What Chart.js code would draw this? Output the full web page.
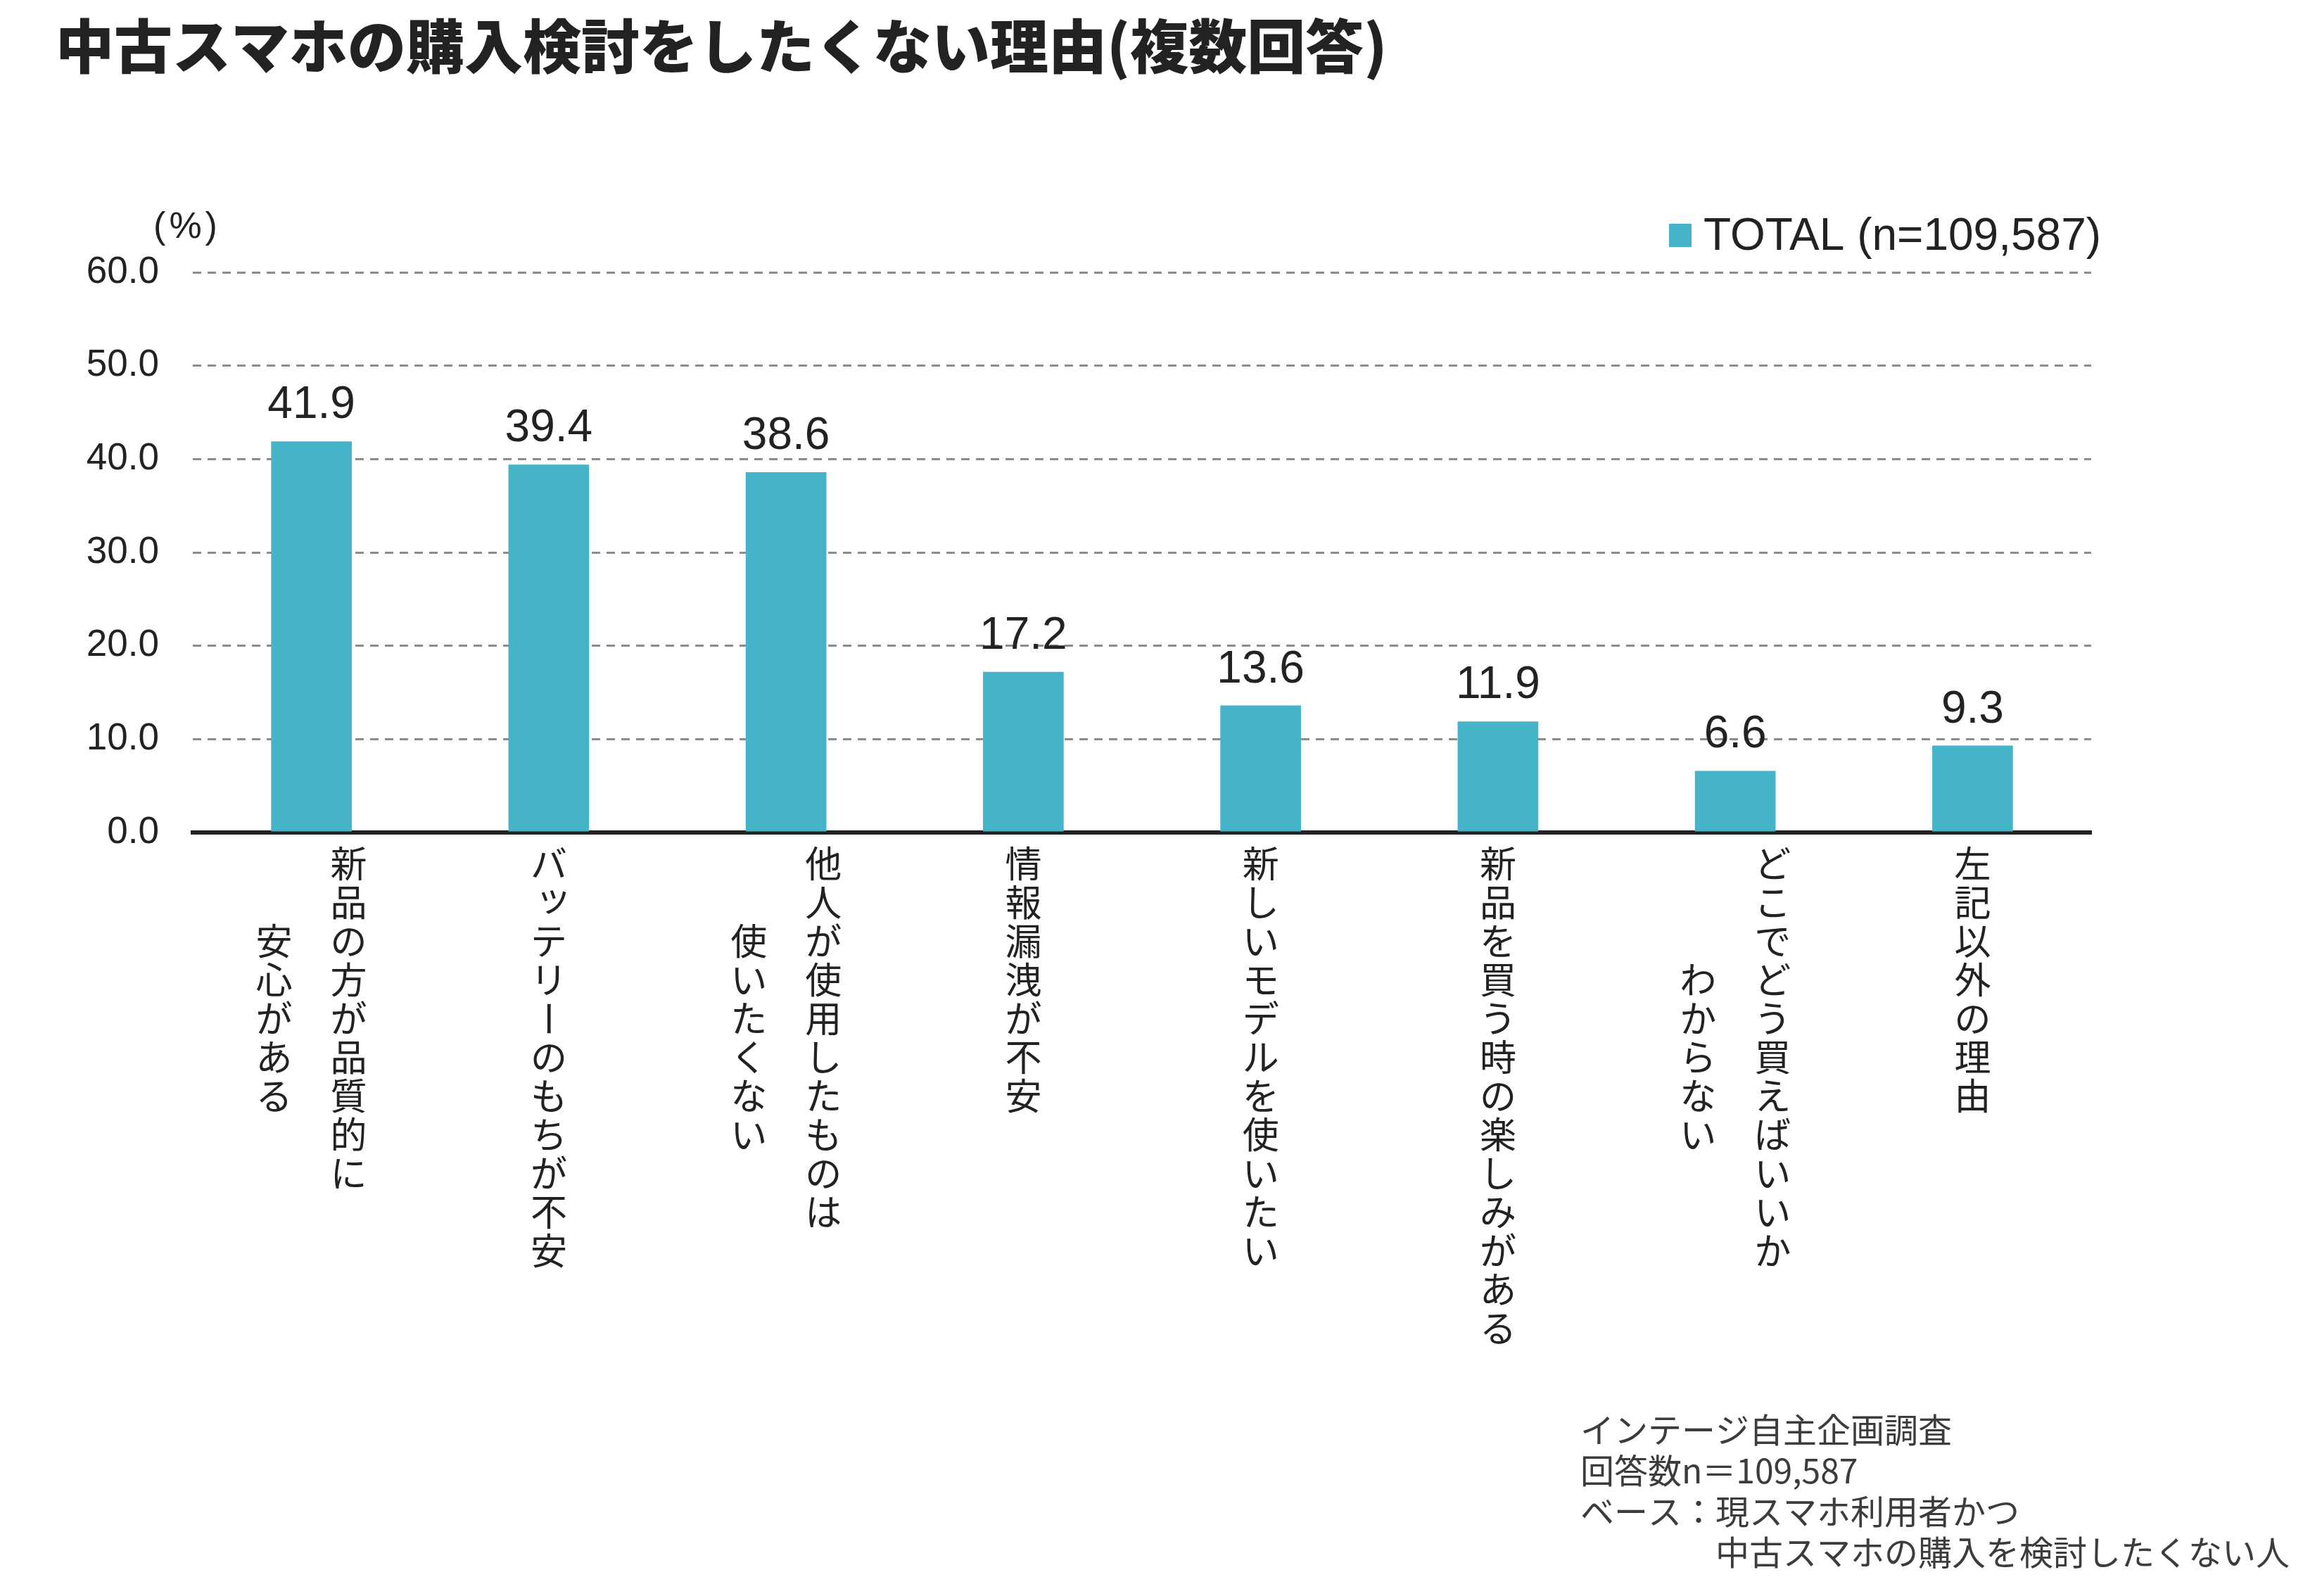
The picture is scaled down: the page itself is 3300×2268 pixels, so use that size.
<!DOCTYPE html>
<html lang="ja">
<head>
<meta charset="utf-8">
<title>中古スマホの購入検討をしたくない理由(複数回答)</title>
<script src="https://cdn.jsdelivr.net/npm/chart.js@4.4.1/dist/chart.umd.min.js"></script>
<style>
  html, body { margin: 0; padding: 0; background: #fff; }
  #wrap { width: 3300px; height: 2268px; }
</style>
</head>
<body>
<div id="wrap"><canvas id="chart" width="3300" height="2268"></canvas></div>
<script>
// データ
const categories = [
    ['新品の方が品質的に', '安心がある'],
    ['バッテリーのもちが不安'],
    ['他人が使用したものは', '使いたくない'],
    ['情報漏洩が不安'],
    ['新しいモデルを使いたい'],
    ['新品を買う時の楽しみがある'],
    ['どこでどう買えばいいか', 'わからない'],
    ['左記以外の理由']
];
const values = [41.9, 39.4, 38.6, 17.2, 13.6, 11.9, 6.6, 9.3];
const yMin = 0;
const yMax = 60;
const yStep = 10;
const seriesName = 'TOTAL (n=109,587)';
const titleText = '中古スマホの購入検討をしたくない理由(複数回答)';
const unitText = '(%)';
const notes = [
    'インテージ自主企画調査',
    '回答数n＝109,587',
    'ベース：現スマホ利用者かつ',
    '　　　　中古スマホの購入を検討したくない人'
];

const barColor = '#45b4c8';
const textColor = '#222222';
const jpFont = '"Noto Sans CJK JP", "Noto Sans CJK SC", sans-serif';
const numFont = '"Liberation Sans", Arial, sans-serif';

// 縦書き一行分を描く
const smallKana = 'ッっャュョゃゅょァィゥェォぁぃぅぇぉ';
function drawVertical(ctx, text, cx, top, pitch) {
    for (let i = 0; i < text.length; i++) {
        const ch = text[i];
        ctx.save();
        ctx.translate(cx, top + (i + 0.5) * pitch);
        if (ch === 'ー') ctx.rotate(Math.PI / 2);
        else if (smallKana.includes(ch)) ctx.translate(pitch * 0.12, -pitch * 0.14);
        ctx.fillText(ch, 0, 0);
        ctx.restore();
    }
}

// 横軸ラベル（縦書き、中央揃え）
const verticalLabels = {
    id: 'verticalLabels',
    afterDraw(chart) {
        const ctx = chart.ctx;
        const xs = chart.scales.x;
        const pitch = 55, colGap = 106;
        const top = chart.chartArea.bottom + 17;
        ctx.save();
        ctx.font = '52px ' + jpFont;
        ctx.fillStyle = textColor;
        ctx.textAlign = 'center';
        ctx.textBaseline = 'middle';
        chart.data.labels.forEach((lines, i) => {
            const cx = xs.getPixelForValue(i);
            const longest = Math.max(...lines.map(s => s.length));
            lines.forEach((line, j) => {
                const x = cx + ((lines.length - 1) / 2 - j) * colGap;
                const y = top + (longest - line.length) / 2 * pitch;
                drawVertical(ctx, line, x, y, pitch);
            });
        });
        ctx.restore();
    }
};

// 棒の上の数値
const valueLabels = {
    id: 'valueLabels',
    afterDatasetsDraw(chart) {
        const ctx = chart.ctx;
        const data = chart.data.datasets[0].data;
        ctx.save();
        ctx.font = '64px ' + numFont;
        ctx.fillStyle = textColor;
        ctx.textAlign = 'center';
        ctx.textBaseline = 'alphabetic';
        chart.getDatasetMeta(0).data.forEach((bar, i) => {
            ctx.fillText(data[i].toFixed(1), bar.x, bar.y - 33);
        });
        ctx.restore();
    }
};

// タイトル・凡例・単位・注記
const decorations = {
    id: 'decorations',
    afterDraw(chart) {
        const ctx = chart.ctx;
        ctx.save();
        ctx.fillStyle = textColor;
        ctx.textBaseline = 'middle';
        ctx.textAlign = 'left';
        ctx.font = '900 83px ' + jpFont;
        ctx.fillText(titleText, 79, 65);

        ctx.font = '52px ' + numFont;
        ctx.textAlign = 'center';
        ctx.letterSpacing = '5px';
        ctx.fillText(unitText, 266, 324);
        ctx.letterSpacing = '0px';

        ctx.fillStyle = barColor;
        ctx.fillRect(2372, 318, 32, 33);
        ctx.fillStyle = textColor;
        ctx.textAlign = 'left';
        ctx.textBaseline = 'alphabetic';
        ctx.font = '64px ' + numFont;
        ctx.fillText(seriesName, 2421, 355);

        ctx.fillStyle = '#3c3c3c';
        ctx.font = '48px ' + jpFont;
        ctx.textBaseline = 'middle';
        notes.forEach((line, i) => ctx.fillText(line, 2246, 2032 + i * 58));
        ctx.restore();
    }
};

new Chart(document.getElementById('chart'), {
    type: 'bar',
    data: {
        labels: categories,
        datasets: [{
            label: seriesName,
            data: values,
            backgroundColor: barColor,
            barPercentage: 0.34,
            categoryPercentage: 1
        }]
    },
    options: {
        responsive: false,
        animation: false,
        layout: { padding: { left: 0, right: 328, top: 387, bottom: 1075 } },
        plugins: { legend: { display: false }, tooltip: { enabled: false } },
        scales: {
            x: {
                grid: { display: false },
                border: { display: true, color: '#222222', width: 6 },
                ticks: { display: false },
                afterFit: s => { s.height = 10; }
            },
            y: {
                min: yMin,
                max: yMax,
                ticks: {
                    stepSize: yStep,
                    padding: 48,
                    color: textColor,
                    font: { family: numFont, size: 53 },
                    callback: v => v.toFixed(1)
                },
                grid: {
                    color: c => c.tick && c.tick.value === 0 ? 'rgba(0,0,0,0)' : '#8c8c8c',
                    lineWidth: 3,
                    drawTicks: false
                },
                border: { display: false, dash: [12, 9] },
                afterFit: s => { s.width = 274; }
            }
        }
    },
    plugins: [verticalLabels, valueLabels, decorations]
});
</script>
</body>
</html>
